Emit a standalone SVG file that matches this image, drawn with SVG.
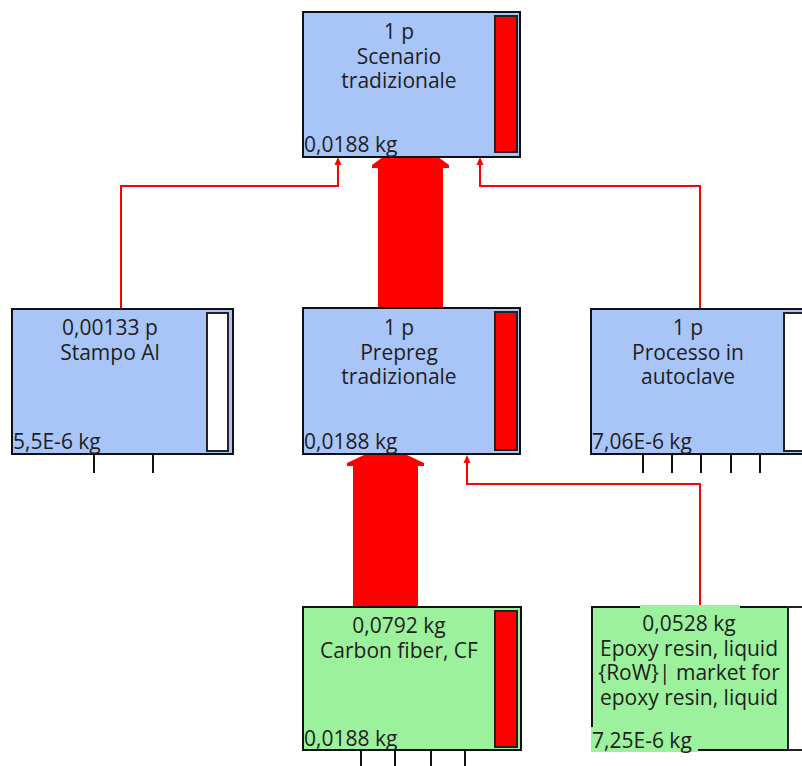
<svg xmlns="http://www.w3.org/2000/svg" width="802" height="766" viewBox="0 0 802 766">
<style>
.box{stroke:#111;stroke-width:2}
.blue{fill:#a9c5f7}
.green{fill:#9cf19c}
.bar{stroke:#222;stroke-width:2}
.red{fill:#ff0000}
.white{fill:#ffffff}
.t{font-family:"Open Sans","Noto Sans","DejaVu Sans",sans-serif;font-size:21px;fill:#1e1e1e}
.c{text-anchor:middle}
.tick{stroke:#111;stroke-width:2}
.link{fill:none;stroke:#ff0000;stroke-width:2}
.flow{fill:#ff0000}
</style>
<rect width="802" height="766" fill="#ffffff"/>
<g id="connectors">
<path class="link" d="M121,309 V186 H338 V162"/>
<polygon class="flow" points="334.5,165 338,157 341.5,165"/>
<path class="link" d="M700,309 V186 H480 V162"/>
<polygon class="flow" points="476.5,165 480,157 483.5,165"/>
<path class="link" d="M700,607 V484 H467 V460"/>
<polygon class="flow" points="463.5,463 467,455 470.5,463"/>
<polygon class="flow" points="378,308 378,168 372,168 372,165 383,157 438,157 449,165 449,168 443,168 443,308"/>
<polygon class="flow" points="353,607 353,466 347,466 347,463 364,455 407,455 424,463 424,466 418,466 418,607"/>
</g>
<g id="node-scenario">
<rect class="box blue" x="303" y="12" width="217" height="145"/>
<rect class="bar red" x="495" y="16" width="22" height="136"/>
<text class="t c" x="399" y="39">1 p</text>
<text class="t c" x="399" y="63.5">Scenario</text>
<text class="t c" x="399" y="88">tradizionale</text>
<text class="t" x="304" y="152">0,0188 kg</text>
</g>
<g id="node-stampo">
<rect class="box blue" x="12" y="309" width="221" height="145"/>
<rect class="bar white" x="207" y="313" width="21" height="138"/>
<text class="t c" x="110" y="335">0,00133 p</text>
<text class="t c" x="110" y="360">Stampo Al</text>
<text class="t" x="13" y="449">5,5E-6 kg</text>
<line class="tick" x1="94" y1="455" x2="94" y2="473"/>
<line class="tick" x1="153" y1="455" x2="153" y2="473"/>
</g>
<g id="node-prepreg">
<rect class="box blue" x="303" y="308" width="217" height="146"/>
<rect class="bar red" x="495" y="312" width="22" height="138"/>
<text class="t c" x="399" y="335">1 p</text>
<text class="t c" x="399" y="359.5">Prepreg</text>
<text class="t c" x="399" y="384">tradizionale</text>
<text class="t" x="304" y="449">0,0188 kg</text>
</g>
<g id="node-autoclave">
<rect class="box blue" x="591" y="309" width="230" height="145"/>
<rect class="bar white" x="784" y="313" width="25" height="138"/>
<text class="t c" x="688" y="335">1 p</text>
<text class="t c" x="688" y="359.5">Processo in</text>
<text class="t c" x="688" y="384">autoclave</text>
<text class="t" x="592" y="449">7,06E-6 kg</text>
<line class="tick" x1="643" y1="455" x2="643" y2="473"/>
<line class="tick" x1="672" y1="455" x2="672" y2="473"/>
<line class="tick" x1="701" y1="455" x2="701" y2="473"/>
<line class="tick" x1="731" y1="455" x2="731" y2="473"/>
<line class="tick" x1="760" y1="455" x2="760" y2="473"/>
</g>
<g id="node-carbon">
<rect class="box green" x="303" y="607" width="218" height="143"/>
<rect class="bar red" x="495" y="611" width="22" height="136"/>
<text class="t c" x="399" y="633">0,0792 kg</text>
<text class="t c" x="399" y="658">Carbon fiber, CF</text>
<text class="t" x="304" y="746">0,0188 kg</text>
<line class="tick" x1="361" y1="751" x2="361" y2="766"/>
<line class="tick" x1="395" y1="751" x2="395" y2="766"/>
<line class="tick" x1="431" y1="751" x2="431" y2="766"/>
<line class="tick" x1="465" y1="751" x2="465" y2="766"/>
</g>
<g id="node-epoxy">
<rect class="box green" x="592" y="607" width="230" height="143"/>
<rect class="bar white" x="788" y="607" width="30" height="143"/>
<rect class="green" x="640" y="605" width="100" height="20"/>
<rect class="green" x="591" y="727" width="107" height="25"/>
<text class="t c" x="689" y="631">0,0528 kg</text>
<text class="t c" x="689" y="655.5">Epoxy resin, liquid</text>
<text class="t c" x="689" y="680">{RoW}| market for</text>
<text class="t c" x="689" y="704.5">epoxy resin, liquid</text>
<text class="t" x="592" y="748">7,25E-6 kg</text>
</g>
</svg>
